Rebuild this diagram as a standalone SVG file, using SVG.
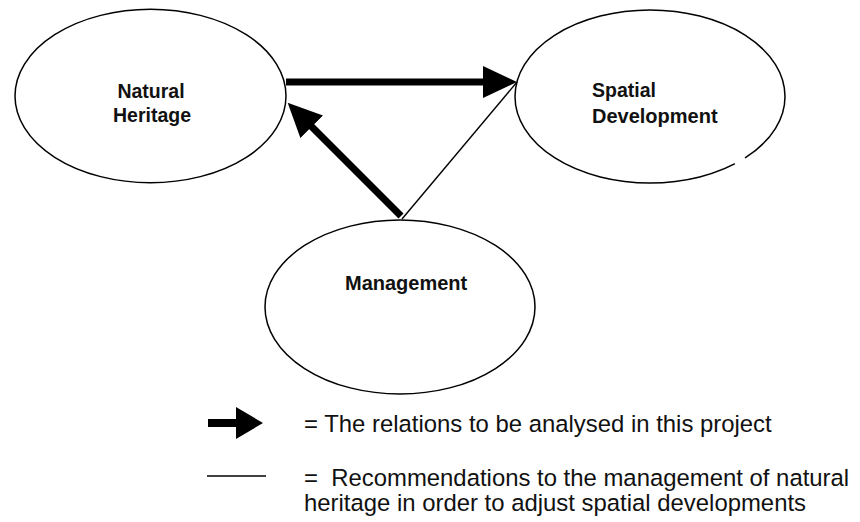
<svg xmlns="http://www.w3.org/2000/svg" width="860" height="522" viewBox="0 0 860 522">
<style>
.node ellipse{fill:#fff;stroke:#000;stroke-width:1.5}
.lbl{font-family:"Liberation Sans",Arial,sans-serif;font-weight:bold;font-size:19.5px;fill:#111}
.leg{font-family:"Liberation Sans",Arial,sans-serif;font-size:23.9px;fill:#111}
.thick{stroke:#000;stroke-width:7;fill:none}
.thin{stroke:#000;stroke-width:1.4;fill:none}
</style>
<defs>
<marker id="head" markerUnits="userSpaceOnUse" markerWidth="34" markerHeight="32" refX="1" refY="16" orient="auto" viewBox="0 0 34 32">
<path d="M0,0 L34,16 L0,32 z" fill="#000"/>
</marker>
</defs>
<rect width="860" height="522" fill="#fff"/>
<g id="natural-heritage" class="node">
<ellipse cx="150.5" cy="96" rx="135.5" ry="86.7"/>
<text class="lbl" x="151" y="98" text-anchor="middle">Natural</text>
<text class="lbl" x="152" y="122" text-anchor="middle">Heritage</text>
</g>
<g id="spatial-development" class="node">
<ellipse cx="650" cy="96.5" rx="135" ry="86.5"/>
<line x1="735" y1="164" x2="745" y2="158" stroke="#fff" stroke-width="4"/>
<text class="lbl" x="592" y="97" font-size="20">Spatial</text>
<text class="lbl" x="592" y="123" style="font-size:20px">Development</text>
</g>
<g id="management" class="node">
<ellipse cx="400" cy="307" rx="135" ry="87"/>
<text class="lbl" x="345" y="290" style="font-size:20px">Management</text>
</g>
<g id="connectors">
<line class="thin" x1="402" y1="219" x2="517" y2="82"/>
<line class="thick" x1="286" y1="82" x2="484" y2="82" marker-end="url(#head)"/>
<line class="thick" x1="401" y1="216" x2="311" y2="126" marker-end="url(#head)"/>
</g>
<g id="legend">
<line x1="208" y1="423" x2="238" y2="423" stroke="#000" stroke-width="8"/>
<path d="M236,407 L263,423 L236,439 z" fill="#000"/>
<text class="leg" x="304" y="432">= The relations to be analysed in this project</text>
<line x1="207" y1="476" x2="266" y2="476" stroke="#000" stroke-width="1.4"/>
<text class="leg" x="304" y="486" xml:space="preserve">=  Recommendations to the management of natural</text>
<text class="leg" x="304" y="511">heritage in order to adjust spatial developments</text>
</g>
</svg>
